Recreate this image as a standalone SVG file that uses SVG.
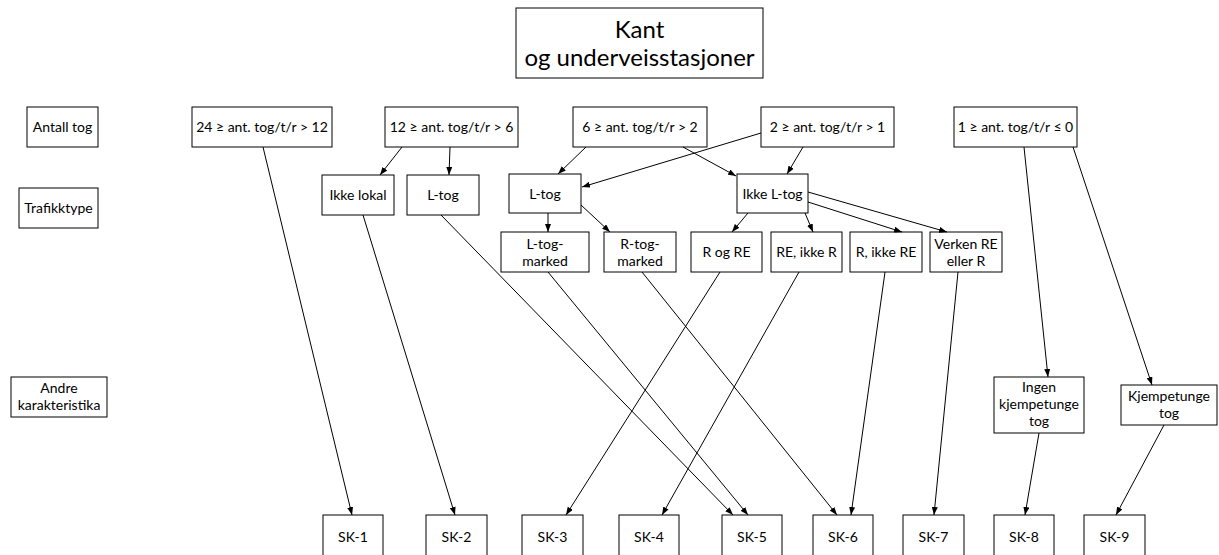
<svg xmlns="http://www.w3.org/2000/svg" width="1219" height="555" viewBox="0 0 1219 555">
<style>
rect{fill:#fff;stroke:#000;stroke-width:1}
text{font-family:Lato,"Open Sans","Liberation Sans",sans-serif;font-size:14px;text-anchor:middle;fill:#000}
.t{font-size:24px}
.c line{stroke:#000;stroke-width:1;marker-end:url(#a)}
</style>
<defs>
<marker id="a" viewBox="0 0 8 6" refX="8" refY="3" markerWidth="8" markerHeight="6" markerUnits="userSpaceOnUse" orient="auto"><path d="M0,0L8,3L0,6z" fill="#000"/></marker>
</defs>
<g id="title"><rect x="516" y="8" width="247" height="70"/><text class="t" x="639.5" y="38">Kant</text><text class="t" x="639.5" y="66">og underveisstasjoner</text></g>
<g id="lbl-antall"><rect x="27" y="107" width="71" height="40"/><text x="62.5" y="132">Antall tog</text></g>
<g id="lbl-trafikk"><rect x="19" y="188" width="79" height="40"/><text x="58.5" y="213">Trafikktype</text></g>
<g id="lbl-andre"><rect x="11" y="377" width="96" height="40"/><text x="59" y="393">Andre</text><text x="59" y="410">karakteristika</text></g>
<g id="a24"><rect x="192" y="107" width="140" height="40"/><text x="262" y="132">24 ≥ ant. tog/t/r &gt; 12</text></g>
<g id="a12"><rect x="385" y="107" width="133" height="40"/><text x="451.5" y="132">12 ≥ ant. tog/t/r &gt; 6</text></g>
<g id="a6"><rect x="573" y="107" width="134" height="40"/><text x="640" y="132">6 ≥ ant. tog/t/r &gt; 2</text></g>
<g id="a2"><rect x="761" y="107" width="133" height="40"/><text x="827.5" y="132">2 ≥ ant. tog/t/r &gt; 1</text></g>
<g id="a1"><rect x="954" y="107" width="123" height="40"/><text x="1015.5" y="132">1 ≥ ant. tog/t/r ≤ 0</text></g>
<g id="ikkelokal"><rect x="322" y="175" width="72" height="40"/><text x="358" y="200">Ikke lokal</text></g>
<g id="ltog1"><rect x="407" y="175" width="72" height="40"/><text x="443" y="200">L-tog</text></g>
<g id="ltog2"><rect x="509" y="174" width="72" height="39"/><text x="545" y="199">L-tog</text></g>
<g id="ikkeltog"><rect x="737" y="174" width="71" height="39"/><text x="772.5" y="199">Ikke L-tog</text></g>
<g id="ltogmarked"><rect x="501" y="232" width="88" height="40"/><text x="545" y="249">L-tog-</text><text x="545" y="266">marked</text></g>
<g id="rtogmarked"><rect x="604" y="232" width="72" height="40"/><text x="640" y="249">R-tog-</text><text x="640" y="266">marked</text></g>
<g id="rogre"><rect x="691" y="232" width="71" height="40"/><text x="726.5" y="257">R og RE</text></g>
<g id="reikker"><rect x="771" y="232" width="71" height="40"/><text x="806.5" y="257">RE, ikke R</text></g>
<g id="rikkere"><rect x="850" y="232" width="72" height="40"/><text x="886" y="257">R, ikke RE</text></g>
<g id="verken"><rect x="930" y="232" width="72" height="40"/><text x="966" y="249">Verken RE</text><text x="966" y="266">eller R</text></g>
<g id="ingen"><rect x="994" y="377" width="90" height="56"/><text x="1039" y="392">Ingen</text><text x="1039" y="409">kjempetunge</text><text x="1039" y="426">tog</text></g>
<g id="kjempe"><rect x="1121" y="385" width="96" height="40"/><text x="1169" y="401">Kjempetunge</text><text x="1169" y="418">tog</text></g>
<g id="sk1"><rect x="323" y="515" width="60" height="50"/><text x="353" y="542">SK-1</text></g>
<g id="sk2"><rect x="426" y="515" width="61" height="50"/><text x="456.5" y="542">SK-2</text></g>
<g id="sk3"><rect x="522" y="515" width="61" height="50"/><text x="552.5" y="542">SK-3</text></g>
<g id="sk4"><rect x="619" y="515" width="60" height="50"/><text x="649" y="542">SK-4</text></g>
<g id="sk5"><rect x="722" y="515" width="60" height="50"/><text x="752" y="542">SK-5</text></g>
<g id="sk6"><rect x="813" y="515" width="60" height="50"/><text x="843" y="542">SK-6</text></g>
<g id="sk7"><rect x="903" y="515" width="61" height="50"/><text x="933.5" y="542">SK-7</text></g>
<g id="sk8"><rect x="994" y="515" width="60" height="50"/><text x="1024" y="542">SK-8</text></g>
<g id="sk9"><rect x="1084" y="515" width="61" height="50"/><text x="1114.5" y="542">SK-9</text></g>
<g id="connectors" class="c">
<line x1="263" y1="147" x2="352" y2="515"/>
<line x1="402" y1="147" x2="380" y2="175"/>
<line x1="450" y1="147" x2="449" y2="175"/>
<line x1="586" y1="147" x2="558" y2="174"/>
<line x1="683" y1="147" x2="736" y2="176"/>
<line x1="761" y1="133" x2="582" y2="187"/>
<line x1="803" y1="147" x2="787" y2="174"/>
<line x1="1024" y1="147" x2="1048" y2="377"/>
<line x1="1073" y1="147" x2="1152" y2="385"/>
<line x1="363" y1="215" x2="455" y2="515"/>
<line x1="441" y1="215" x2="733" y2="515"/>
<line x1="548" y1="213" x2="548" y2="232"/>
<line x1="581" y1="205" x2="610" y2="232"/>
<line x1="748" y1="213" x2="732" y2="232"/>
<line x1="805" y1="213" x2="813" y2="232"/>
<line x1="808" y1="202" x2="902" y2="232"/>
<line x1="808" y1="192" x2="947" y2="232"/>
<line x1="548" y1="272" x2="748" y2="515"/>
<line x1="642" y1="272" x2="837" y2="515"/>
<line x1="720" y1="272" x2="566" y2="515"/>
<line x1="799" y1="272" x2="662" y2="515"/>
<line x1="885" y1="272" x2="851" y2="515"/>
<line x1="958" y1="272" x2="934" y2="515"/>
<line x1="1039" y1="433" x2="1025" y2="515"/>
<line x1="1164" y1="425" x2="1116" y2="515"/>
</g>
</svg>
